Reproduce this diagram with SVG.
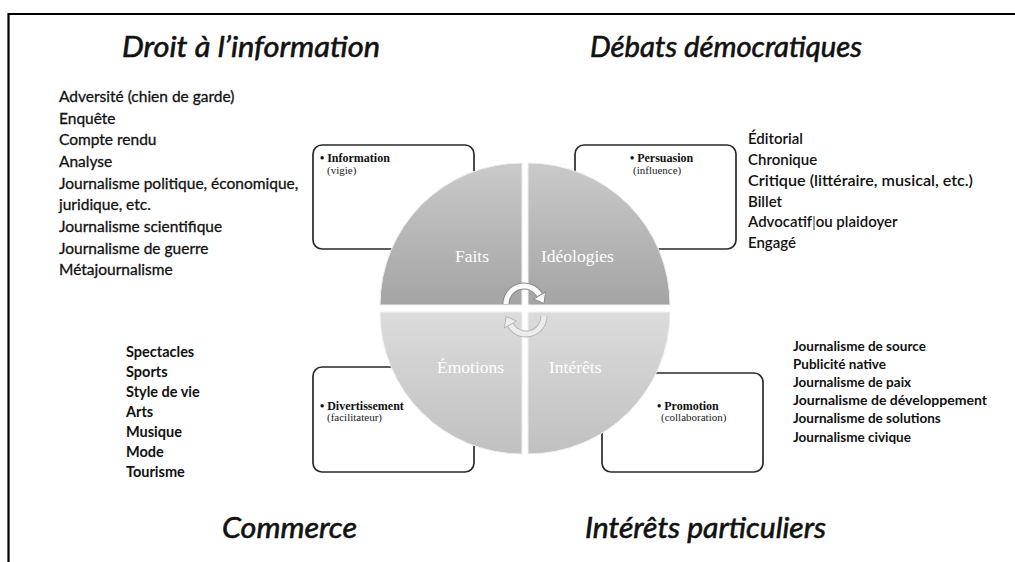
<svg xmlns="http://www.w3.org/2000/svg" width="1015" height="562" viewBox="0 0 1015 562">
<defs>
<linearGradient id="gUp" x1="0" y1="163" x2="0" y2="305" gradientUnits="userSpaceOnUse">
<stop offset="0" stop-color="#cacaca"/><stop offset="1" stop-color="#a4a4a4"/>
</linearGradient>
<linearGradient id="gDn" x1="0" y1="312" x2="0" y2="454" gradientUnits="userSpaceOnUse">
<stop offset="0" stop-color="#dcdcdc"/><stop offset="1" stop-color="#c0c0c0"/>
</linearGradient>
<style>
.title{font-family:Lato,"Open Sans",sans-serif;font-style:italic;font-size:29px;fill:#111;stroke:#111;stroke-width:0.6}
.list{font-family:Lato,"Open Sans",sans-serif;font-size:15px;fill:#111}
.reg{stroke:#111;stroke-width:0.3}
.semi{font-weight:600}
.bold{font-weight:bold}
.box{fill:#fff;stroke:#2a2a2a;stroke-width:1.7}
.bt{font-family:"Liberation Serif",serif;font-size:12px;font-weight:bold;fill:#111}
.bs{font-family:"Liberation Serif",serif;font-size:11px;fill:#222}
.q{font-family:"Liberation Serif",serif;font-size:17.5px;fill:#fff}
.quad{stroke:#efefef;stroke-width:1}
</style>
</defs>
<rect width="1015" height="562" fill="#fff"/>
<path d="M8.5,562 V14 H1015" fill="none" stroke="#000" stroke-width="2.2"/>

<g id="titles">
<text class="title" x="122" y="57" textLength="258" lengthAdjust="spacingAndGlyphs">Droit à l’information</text>
<text class="title" x="590" y="57" textLength="272" lengthAdjust="spacingAndGlyphs">Débats démocratiques</text>
<text class="title" x="222" y="538" textLength="135" lengthAdjust="spacingAndGlyphs">Commerce</text>
<text class="title" x="585" y="538" textLength="241" lengthAdjust="spacingAndGlyphs">Intérêts particuliers</text>
</g>

<g id="list-droit" class="list reg" style="font-size:15.5px">
<text x="59" y="102">Adversité (chien de garde)</text>
<text x="59" y="124">Enquête</text>
<text x="59" y="145">Compte rendu</text>
<text x="59" y="167">Analyse</text>
<text x="59" y="189">Journalisme politique, économique,</text>
<text x="59" y="210">juridique, etc.</text>
<text x="59" y="232">Journalisme scientifique</text>
<text x="59" y="254">Journalisme de guerre</text>
<text x="59" y="275">Métajournalisme</text>
</g>

<g id="list-debats" class="list semi">
<text x="748" y="144">Éditorial</text>
<text x="748" y="165">Chronique</text>
<text x="748" y="186" textLength="225" lengthAdjust="spacingAndGlyphs">Critique (littéraire, musical, etc.)</text>
<text x="748" y="207">Billet</text>
<text x="748" y="227">Advocatif ou plaidoyer</text>
<text x="748" y="248">Engagé</text>
<line x1="814" y1="216" x2="814" y2="230" stroke="#333" stroke-width="1"/>
</g>

<g id="list-commerce" class="list bold" style="font-size:14.5px">
<text x="126" y="357">Spectacles</text>
<text x="126" y="377">Sports</text>
<text x="126" y="397">Style de vie</text>
<text x="126" y="417">Arts</text>
<text x="126" y="437">Musique</text>
<text x="126" y="457">Mode</text>
<text x="126" y="477">Tourisme</text>
</g>

<g id="list-interets" class="list bold" style="font-size:13.5px">
<text x="793" y="351">Journalisme de source</text>
<text x="793" y="369">Publicité native</text>
<text x="793" y="387">Journalisme de paix</text>
<text x="793" y="405" textLength="194" lengthAdjust="spacingAndGlyphs">Journalisme de développement</text>
<text x="793" y="423">Journalisme de solutions</text>
<text x="793" y="442">Journalisme civique</text>
</g>

<g id="box-information">
<rect class="box" x="313" y="145" width="161" height="104" rx="9"/>
<text class="bt" x="320" y="162">• Information</text>
<text class="bs" x="327" y="174">(vigie)</text>
</g>
<g id="box-persuasion">
<rect class="box" x="575" y="145" width="161" height="104" rx="9"/>
<text class="bt" x="630" y="162">• Persuasion</text>
<text class="bs" x="633" y="174">(influence)</text>
</g>
<g id="box-divertissement">
<rect class="box" x="313" y="367" width="161" height="105" rx="9"/>
<text class="bt" x="320" y="410">• Divertissement</text>
<text class="bs" x="327" y="421">(facilitateur)</text>
</g>
<g id="box-promotion">
<rect class="box" x="602" y="373" width="161" height="99" rx="9"/>
<text class="bt" x="657" y="410">• Promotion</text>
<text class="bs" x="661" y="421">(collaboration)</text>
</g>

<g id="quad-faits">
<path class="quad" d="M522,305 L380,305 A142,142 0 0 1 522,163 Z" fill="url(#gUp)"/>
<text class="q" x="455" y="262">Faits</text>
</g>
<g id="quad-ideologies">
<path class="quad" d="M528,305 L528,163 A142,142 0 0 1 670,305 Z" fill="url(#gUp)"/>
<text class="q" x="541" y="262">Idéologies</text>
</g>
<g id="quad-emotions">
<path class="quad" d="M522,312 L522,454 A142,142 0 0 1 380,312 Z" fill="url(#gDn)"/>
<text class="q" x="437" y="373">Émotions</text>
</g>
<g id="quad-interets">
<path class="quad" d="M528,312 L670,312 A142,142 0 0 1 528,454 Z" fill="url(#gDn)"/>
<text class="q" x="549" y="373">Intérêts</text>
</g>

<g id="connectors">
<g id="arrow-up">
<path d="M506,304 A18,18 0 0 1 539.6,295" fill="none" stroke="#8a8a8a" stroke-width="7"/>
<path d="M506,304 A18,18 0 0 1 539.6,295" fill="none" stroke="#fafafa" stroke-width="5"/>
<polygon points="545.5,292 533.5,299 544,303.5" fill="#fafafa" stroke="#8a8a8a" stroke-width="1"/>
</g>
<g id="arrow-down" transform="rotate(180 525 310)">
<path d="M506,304 A18,18 0 0 1 539.6,295" fill="none" stroke="#b5b5b5" stroke-width="7"/>
<path d="M506,304 A18,18 0 0 1 539.6,295" fill="none" stroke="#ececec" stroke-width="5"/>
<polygon points="545.5,292 533.5,299 544,303.5" fill="#ececec" stroke="#b5b5b5" stroke-width="1"/>
</g>
</g>
</svg>
